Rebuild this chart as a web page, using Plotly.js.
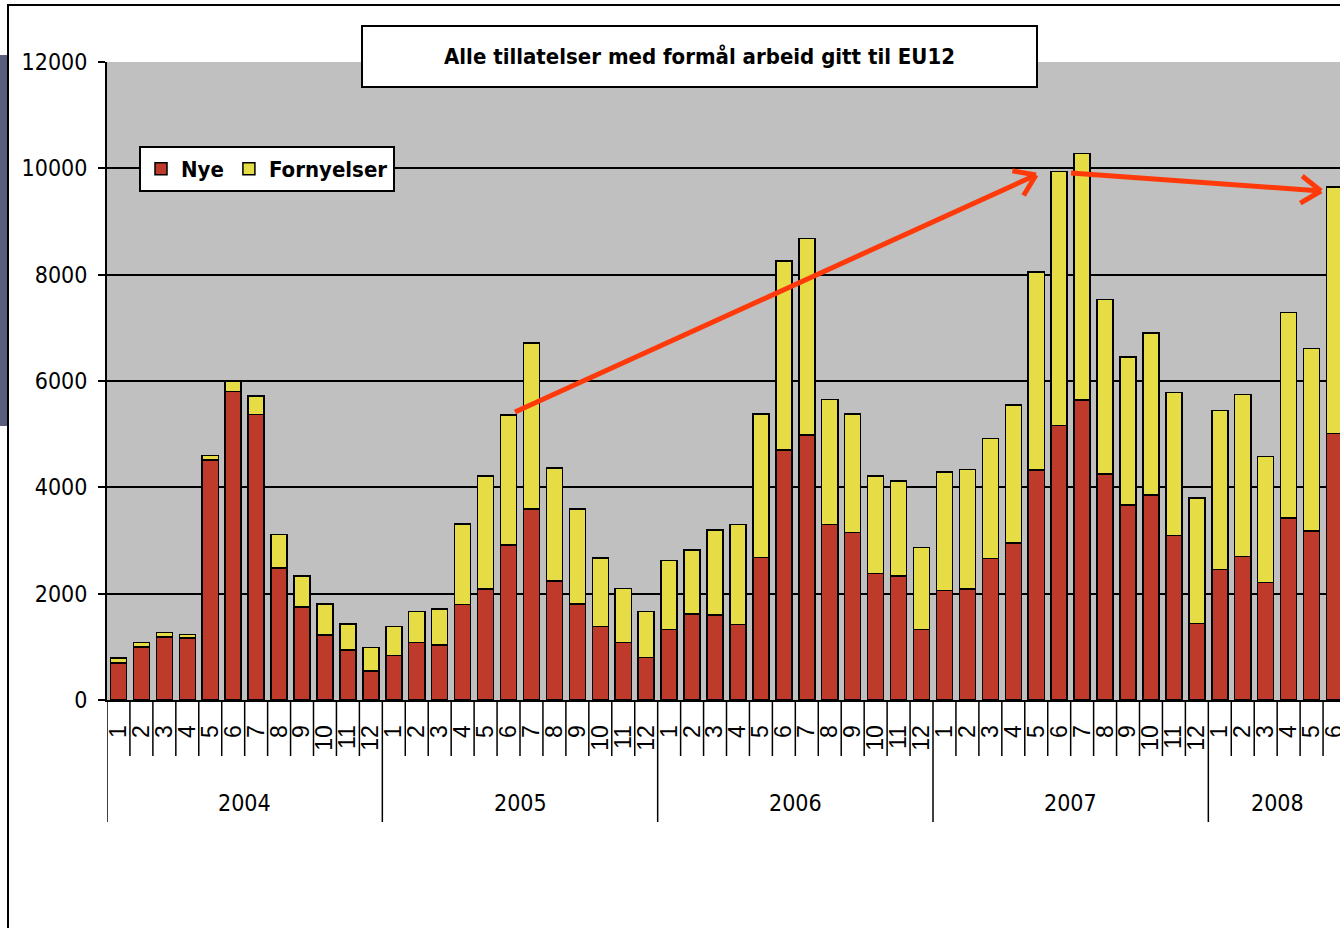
<!DOCTYPE html>
<html>
<head>
<meta charset="utf-8">
<script src="https://cdn.plot.ly/plotly-3.0.1.min.js"></script>
<style>
  body { margin: 0; width: 1340px; height: 928px; overflow: hidden; background: #fff; position: relative; }
  #side { position: absolute; left: 0; top: 55px; width: 8px; height: 371px; background: #5b5e7a; }
  #frame { position: absolute; left: 7px; top: 4px; width: 1400px; height: 1000px; border-left: 2px solid #000; border-top: 2px solid #000; }
  #chart { position: absolute; left: 0; top: 0; width: 1350px; height: 928px; }
</style>
</head>
<body>
<div id="side"></div>
<div id="frame"></div>
<div id="chart"></div>
<script>
// månedlige tillatelser, 2004-01 .. 2008-06
const years = ['2004', '2005', '2006', '2007', '2008'];
const monthsPerYear = [12, 12, 12, 12, 6];

const nye = [
  700, 1000, 1185, 1170, 4510, 5800, 5370, 2480, 1750, 1220, 940, 545,
  840, 1080, 1030, 1800, 2090, 2915, 3590, 2240, 1805, 1380, 1085, 795,
  1330, 1620, 1600, 1420, 2680, 4700, 4980, 3300, 3150, 2380, 2330, 1330,
  2060, 2090, 2660, 2950, 4330, 5160, 5640, 4250, 3665, 3860, 3090, 1435,
  2450, 2700, 2210, 3420, 3180, 5010
];
const fornyelser = [
  90, 80, 85, 60, 85, 190, 345, 630, 580, 585, 490, 445,
  540, 580, 680, 1510, 2125, 2450, 3125, 2125, 1785, 1295, 1015, 865,
  1290, 1200, 1600, 1885, 2695, 3555, 3705, 2355, 2225, 1830, 1785, 1535,
  2225, 2245, 2260, 2595, 3720, 4780, 4640, 3280, 2785, 3040, 2695, 2360,
  2995, 3045, 2370, 3870, 3430, 4635
];
const yTicks = [0, 2000, 4000, 6000, 8000, 10000, 12000];

const monthLabels = [];
monthsPerYear.forEach(n => { for (let m = 1; m <= n; m++) monthLabels.push(String(m)); });
const xs = monthLabels.map((_, i) => i);

// plot area in page pixels
const W = 1350, H = 928;
const M = { l: 107, r: 4, t: 62, b: 228 };
const plotW = W - M.l - M.r, plotH = H - M.t - M.b;
const px = X => (X - M.l) / plotW;
const py = Y => (H - M.b - Y) / plotH;

const narrow = 'Liberation Sans Narrow, DejaVu Sans Condensed, Arial Narrow, sans-serif';
const red = '#BE3A2A', yellow = '#E6DC46', arrowCol = '#FF3A0A';

const traces = [
  {
    x: xs, y: nye, name: 'Nye', type: 'bar',
    marker: { color: red, line: { color: '#000', width: 1.5 } }
  },
  {
    x: xs, y: fornyelser, name: 'Fornyelser', type: 'bar',
    marker: { color: yellow, line: { color: '#000', width: 1.5 } }
  }
];

const shapes = [];
const annotations = [];

// skillelinjer mellom månedene og årene
let start = 0;
monthsPerYear.forEach((n, k) => {
  for (let m = 1; m < n; m++) {
    shapes.push({ type: 'line', xref: 'x', yref: 'paper', x0: start + m - 0.5, x1: start + m - 0.5,
      y0: 0, y1: py(756), line: { color: '#000', width: 1.5 } });
  }
  shapes.push({ type: 'line', xref: 'x', yref: 'paper', x0: start - 0.5, x1: start - 0.5,
    y0: 0, y1: py(822), line: { color: '#000', width: 1.5 } });
  annotations.push({ xref: 'x', yref: 'paper', x: start + (n - 1) / 2, y: py(803),
    text: years[k], showarrow: false, xanchor: 'center', yanchor: 'middle',
    font: { family: narrow, size: 23, color: '#000' } });
  start += n;
});
shapes.push({ type: 'line', xref: 'x', yref: 'paper', x0: start - 0.5, x1: start - 0.5,
  y0: 0, y1: py(822), line: { color: '#000', width: 1.5 } });

// piler
function arrow(x0, y0, x1, y1) {
  const dx = x1 - x0, dy = y1 - y0, len = Math.hypot(dx, dy);
  const ux = -dx / len, uy = -dy / len, arm = 24;
  const line = { color: arrowCol, width: 5 };
  shapes.push({ type: 'line', xref: 'paper', yref: 'paper', x0: px(x0), y0: py(y0), x1: px(x1), y1: py(y1), line });
  [0.6, -0.6].forEach(a => {
    const rx = ux * Math.cos(a) - uy * Math.sin(a);
    const ry = ux * Math.sin(a) + uy * Math.cos(a);
    shapes.push({ type: 'line', xref: 'paper', yref: 'paper', x0: px(x1), y0: py(y1),
      x1: px(x1 + rx * arm), y1: py(y1 + ry * arm), line });
  });
}
arrow(515, 412, 1036, 175);
arrow(1071, 173, 1321, 191);

// tittelboks
annotations.push({
  xref: 'paper', yref: 'paper', x: px(699.5), y: py(56), xanchor: 'center', yanchor: 'middle',
  text: '<b>Alle tillatelser med formål arbeid gitt til EU12</b>', showarrow: false,
  width: 673, height: 59, bgcolor: '#fff', bordercolor: '#000', borderwidth: 2, borderpad: 0,
  font: { family: narrow, size: 22, color: '#000' }
});

const layout = {
  width: W, height: H,
  margin: M,
  barmode: 'stack',
  bargap: 0.3,
  paper_bgcolor: 'rgba(0,0,0,0)',
  plot_bgcolor: '#C0C0C0',
  showlegend: true,
  legend: {
    orientation: 'h', traceorder: 'normal',
    x: px(139), y: py(146), xanchor: 'left', yanchor: 'top',
    bgcolor: '#fff', bordercolor: '#000', borderwidth: 2,
    font: { family: narrow, size: 22, color: '#000', weight: 'bold' },
    itemwidth: 30
  },
  xaxis: {
    type: 'linear', range: [-0.5, monthLabels.length - 0.5],
    tickvals: xs, ticktext: monthLabels, tickangle: -90,
    tickfont: { family: 'Liberation Sans, Arial, sans-serif', size: 23, color: '#000' },
    ticks: '', showgrid: false, zeroline: false,
    showline: true, linecolor: '#000', linewidth: 2,
    ticklabelstandoff: 14
  },
  yaxis: {
    range: [0, 12000], tickvals: yTicks, tickformat: 'd',
    ticks: 'outside', ticklen: 7, tickwidth: 2, tickcolor: '#000',
    tickfont: { family: narrow, size: 23, color: '#000' },
    showgrid: true, gridcolor: '#000', gridwidth: 2,
    zeroline: false, showline: true, linecolor: '#000', linewidth: 2,
    ticklabelstandoff: 6
  },
  shapes: shapes,
  annotations: annotations
};

Plotly.newPlot('chart', traces, layout, { displayModeBar: false, staticPlot: true });
</script>
</body>
</html>
